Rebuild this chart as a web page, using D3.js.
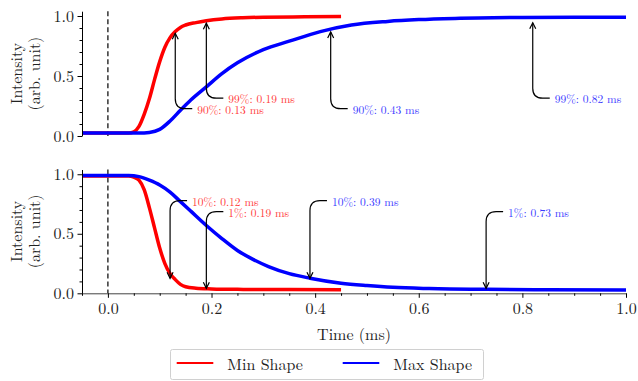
<!DOCTYPE html>
<html>
<head>
<meta charset="utf-8">
<script src="https://cdn.jsdelivr.net/npm/d3@7"></script>
<style>
  body { margin: 0; background: #fff; }
</style>
</head>
<body>
<div class="graph"></div>
<script>
// rise (top panel) ------------------------------------------------------
var riseMinT = [-0.05, 0.0, 0.04, 0.05, 0.06, 0.07, 0.08, 0.09, 0.10, 0.11, 0.12, 0.13, 0.14, 0.15, 0.17, 0.19, 0.22, 0.26, 0.30, 0.38, 0.45];
var riseMinV = [0.025, 0.025, 0.026, 0.035, 0.08, 0.18, 0.31, 0.47, 0.62, 0.74, 0.82, 0.87, 0.905, 0.925, 0.945, 0.96, 0.975, 0.985, 0.99, 0.993, 0.995];

var riseMaxT = [-0.05, 0.0, 0.06, 0.08, 0.10, 0.12, 0.14, 0.16, 0.19, 0.22, 0.25, 0.30, 0.35, 0.41, 0.47, 0.54, 0.60, 0.67, 0.80, 0.90, 1.0];
var riseMaxV = [0.025, 0.025, 0.025, 0.03, 0.055, 0.125, 0.215, 0.30, 0.41, 0.52, 0.61, 0.72, 0.79, 0.87, 0.925, 0.955, 0.97, 0.98, 0.988, 0.99, 0.99];

// fall (bottom panel) ---------------------------------------------------
var fallMinT = [-0.05, 0.0, 0.04, 0.05, 0.06, 0.07, 0.08, 0.09, 0.10, 0.11, 0.12, 0.13, 0.14, 0.15, 0.17, 0.20, 0.25, 0.35, 0.45];
var fallMinV = [0.985, 0.985, 0.985, 0.975, 0.95, 0.87, 0.72, 0.55, 0.38, 0.25, 0.165, 0.115, 0.075, 0.055, 0.043, 0.037, 0.033, 0.031, 0.03];

var fallMaxT = [-0.05, 0.0, 0.04, 0.06, 0.08, 0.10, 0.12, 0.14, 0.16, 0.19, 0.22, 0.25, 0.28, 0.31, 0.35, 0.39, 0.45, 0.50, 0.55, 0.62, 0.73, 0.85, 1.0];
var fallMaxV = [0.99, 0.99, 0.99, 0.98, 0.95, 0.91, 0.85, 0.77, 0.69, 0.57, 0.46, 0.36, 0.285, 0.225, 0.165, 0.127, 0.085, 0.065, 0.05, 0.04, 0.033, 0.03, 0.028];

// annotations: time, arrow tip value, text height, label, series
var riseNoteT = [0.13, 0.19, 0.43, 0.82];
var riseNoteTip = [0.856, 0.94, 0.867, 0.944];
var riseNoteY = [0.228, 0.315, 0.228, 0.315];
var riseNoteLabel = ["90%: 0.13 ms", "99%: 0.19 ms", "90%: 0.43 ms", "99%: 0.82 ms"];
var riseNoteSeries = ["min", "min", "max", "max"];

var fallNoteT = [0.12, 0.19, 0.39, 0.73];
var fallNoteTip = [0.126, 0.042, 0.126, 0.042];
var fallNoteY = [0.778, 0.686, 0.778, 0.686];
var fallNoteLabel = ["10%: 0.12 ms", "1%: 0.19 ms", "10%: 0.39 ms", "1%: 0.73 ms"];
var fallNoteSeries = ["min", "min", "max", "max"];

var seriesNames = ["Min Shape", "Max Shape"];
var xTicks = [0.0, 0.2, 0.4, 0.6, 0.8, 1.0];
var yTicks = [0.0, 0.5, 1.0];

var colors = {min: "#ff0000", max: "#0000ff"};
var noteColors = {min: "#ff3b3b", max: "#3b3bff"};
var font = "'Latin Modern Roman', 'Liberation Serif', serif";

var width = 638, height = 381;

var svg = d3.select("div.graph").append("svg")
    .attr("width", width)
    .attr("height", height)
    .attr("font-family", font);

var x = d3.scaleLinear().domain([-0.05, 1.0]).range([82, 626]);
var yTop = d3.scaleLinear().domain([0, 1.04]).range([136, 11.2]);
var yBot = d3.scaleLinear().domain([0, 1.04]).range([293.3, 169.5]);

var zip = function(ts, vs) {
  return ts.map(function(t, i) { return {t: t, v: vs[i]}; });
};

var minorY = d3.range(0, 11).map(function(i) { return i / 10; })
  .filter(function(v) { return yTicks.indexOf(v) < 0; });
var minorX = d3.range(-1, 21).map(function(i) { return i / 20; })
  .filter(function(v) { return !xTicks.some(function(m) { return Math.abs(m - v) < 1e-9; }); });

var styleTicks = function(sel) {
  sel.selectAll("text")
    .style("font-size", "16px")
    .style("fill", "#222")
    .style("font-family", font);
};

var drawPanel = function(y, lines, notes, showX) {
  var g = svg.append("g");

  // dashed line at t = 0
  g.append("line")
    .attr("x1", x(0)).attr("x2", x(0))
    .attr("y1", y.range()[1]).attr("y2", y.range()[0])
    .attr("stroke", "#000")
    .attr("stroke-width", 1.2)
    .attr("stroke-dasharray", "5,3");

  var line = d3.line()
    .x(function(d) { return x(d.t); })
    .y(function(d) { return y(d.v); })
    .curve(d3.curveMonotoneX);

  lines.forEach(function(l) {
    g.append("path")
      .datum(l.data)
      .attr("fill", "none")
      .attr("stroke", colors[l.key])
      .attr("stroke-width", 3.5)
      .attr("stroke-linejoin", "round")
      .attr("d", line);
  });

  // y axis, major + minor
  var ay = g.append("g")
    .attr("transform", "translate(82,0)")
    .call(d3.axisLeft(y).tickValues(yTicks).tickFormat(d3.format(".1f"))
      .tickSize(4.5).tickSizeOuter(0).tickPadding(3.5));
  styleTicks(ay);
  g.append("g")
    .attr("transform", "translate(82,0)")
    .call(d3.axisLeft(y).tickValues(minorY).tickFormat("").tickSize(2.5).tickSizeOuter(0))
    .select(".domain").remove();

  if (showX) {
    var ax = g.append("g")
      .attr("transform", "translate(0," + y.range()[0] + ")")
      .call(d3.axisBottom(x).tickValues(xTicks).tickFormat(d3.format(".1f"))
        .tickSize(4.5).tickSizeOuter(0).tickPadding(5));
    ax.select(".domain").attr("stroke", "#444");
    styleTicks(ax);
    g.append("g")
      .attr("transform", "translate(0," + y.range()[0] + ")")
      .call(d3.axisBottom(x).tickValues(minorX).tickFormat("").tickSize(2.5).tickSizeOuter(0))
      .select(".domain").remove();
  }

  // y label, two lines
  var cy = (y.range()[0] + y.range()[1]) / 2;
  [["Intensity", 15], ["(arb. unit)", 33]].forEach(function(p) {
    g.append("text")
      .attr("transform", "translate(" + p[1] + "," + cy + ") rotate(-90)")
      .attr("text-anchor", "middle")
      .attr("dominant-baseline", "central")
      .style("font-family", font)
      .style("font-size", "16px")
      .style("fill", "#222")
      .text(p[0]);
  });

  // annotations with bent arrows
  notes.forEach(function(n) {
    var ax0 = x(n.t);
    var tipY = y(n.tip);
    var ty = y(n.ty);
    var tx = ax0 + 22;
    var sx = tx - 5;
    var r = 10;
    var dir = tipY < ty ? -1 : 1;   // arrow goes up or down
    var path = "M" + sx + "," + ty +
      " H" + (ax0 + r) +
      " Q" + ax0 + "," + ty + " " + ax0 + "," + (ty + dir * r) +
      " V" + tipY;
    g.append("path")
      .attr("d", path)
      .attr("fill", "none")
      .attr("stroke", "#000")
      .attr("stroke-width", 1.2);
    // open arrow head
    var hl = 6, hw = 3;
    g.append("path")
      .attr("d", "M" + (ax0 - hw) + "," + (tipY - dir * hl) + " L" + ax0 + "," + tipY +
        " L" + (ax0 + hw) + "," + (tipY - dir * hl))
      .attr("fill", "none")
      .attr("stroke", "#000")
      .attr("stroke-width", 1.2);
    g.append("text")
      .attr("x", tx)
      .attr("y", ty)
      .attr("dominant-baseline", "central")
      .style("font-family", font)
      .style("font-size", "11.5px")
      .style("fill", noteColors[n.key])
      .text(n.label);
  });
};

var makeNotes = function(ts, tips, ys, labels, keys) {
  return ts.map(function(t, i) {
    return {t: t, tip: tips[i], ty: ys[i], label: labels[i], key: keys[i]};
  });
};

drawPanel(yTop,
  [{key: "min", data: zip(riseMinT, riseMinV)}, {key: "max", data: zip(riseMaxT, riseMaxV)}],
  makeNotes(riseNoteT, riseNoteTip, riseNoteY, riseNoteLabel, riseNoteSeries),
  false);

drawPanel(yBot,
  [{key: "min", data: zip(fallMinT, fallMinV)}, {key: "max", data: zip(fallMaxT, fallMaxV)}],
  makeNotes(fallNoteT, fallNoteTip, fallNoteY, fallNoteLabel, fallNoteSeries),
  true);

// x label
svg.append("text")
  .attr("x", (x.range()[0] + x.range()[1]) / 2)
  .attr("y", 333)
  .attr("text-anchor", "middle")
  .attr("dominant-baseline", "central")
  .style("font-family", font)
  .style("font-size", "16px")
  .style("fill", "#222")
  .text("Time (ms)");

// legend
var legend = svg.append("g");
legend.append("rect")
  .attr("x", 170.5).attr("y", 349.5)
  .attr("width", 313).attr("height", 30)
  .attr("rx", 2)
  .attr("fill", "#fff")
  .attr("stroke", "#d0d0d0");

var legendX = [176.7, 342.7];
var legendKeys = ["min", "max"];
seriesNames.forEach(function(name, i) {
  legend.append("line")
    .attr("x1", legendX[i]).attr("x2", legendX[i] + 36.6)
    .attr("y1", 363).attr("y2", 363)
    .attr("stroke", colors[legendKeys[i]])
    .attr("stroke-width", 2);
  legend.append("text")
    .attr("x", legendX[i] + 50.6)
    .attr("y", 363)
    .attr("dominant-baseline", "central")
    .style("font-family", font)
    .style("font-size", "16px")
    .style("fill", "#222")
    .text(name);
});
</script>
</body>
</html>
